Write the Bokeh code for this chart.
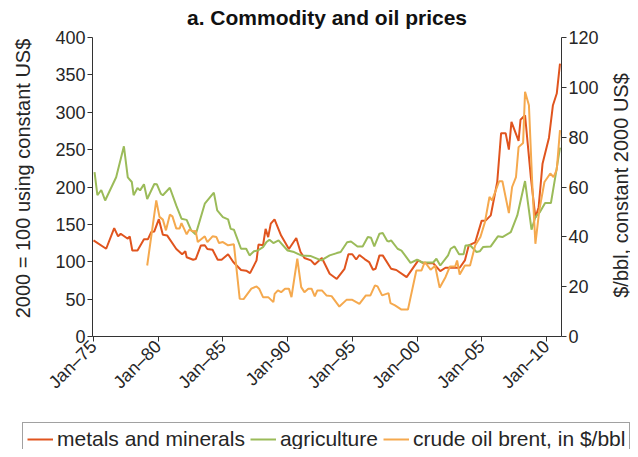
import math
from bokeh.plotting import figure
from bokeh.models import Range1d, LinearAxis, FixedTicker, Legend, LegendItem, Label
from bokeh.embed import file_html
from bokeh.resources import INLINE

FONT = "Liberation Sans"

# ---- data (decimal years; metals & agriculture index 2000=100; oil in $/bbl, constant 2000 US$)
metals_x = [1975.0, 1975.98, 1976.6, 1976.9, 1977.1, 1977.65, 1977.8, 1978.0, 1978.4, 1978.9,
            1979.2, 1979.46, 1979.7, 1980.05, 1980.36, 1980.7, 1981.4, 1981.85, 1982.1, 1982.2,
            1982.7, 1982.9, 1983.3, 1983.6, 1983.8, 1984.2, 1984.6, 1984.9, 1985.4, 1985.8,
            1986.4, 1986.8, 1987.1, 1987.6, 1987.75, 1988.1, 1988.3, 1988.5, 1988.7, 1988.99,
            1989.5, 1990.1, 1990.67, 1991.0, 1991.3, 1991.8, 1992.1, 1992.65, 1993.25, 1993.8,
            1994.4, 1994.7, 1995.0, 1995.3, 1995.55, 1995.95, 1996.3, 1996.6, 1996.8, 1997.1,
            1997.35, 1998.0, 1998.4, 1999.2, 2000.1, 2000.5, 2001.25, 2001.8, 2002.2, 2003.3,
            2003.7, 2004.0, 2004.5, 2005.0, 2005.3, 2005.7, 2006.2, 2006.5, 2006.85, 2007.1,
            2007.3, 2007.85, 2008.0, 2008.35, 2008.8, 2009.15, 2009.4, 2009.7, 2010.2, 2010.5,
            2010.8, 2011.05]
metals_y = [128.6, 117.4, 145, 134, 137.5, 130.8, 134, 115, 115, 130,
            130, 139.7, 140.6, 157, 136, 135, 117, 110, 114, 106,
            102.7, 103.6, 121.9, 122, 117, 116, 102.7, 102.7, 110, 99.6,
            89, 88, 84.8, 101.8, 123, 122, 144, 133, 151, 156.7,
            135, 117, 131.7, 113, 105, 101.8, 96.4, 105, 84, 77,
            90.6, 110, 110, 103, 109, 103.6, 99.6, 89.3, 90.6, 108.5,
            108.5, 90.6, 89, 79.5, 101.8, 98, 98, 87.5, 92, 92,
            101.8, 121.9, 126, 155, 155, 162, 206.7, 272, 272, 250,
            287, 261.6, 290, 296, 213, 159, 173, 231, 266, 309,
            325, 365]

agri_x = [1975.08, 1975.3, 1975.6, 1975.9, 1976.75, 1977.35, 1977.65, 1977.96, 1978.1, 1978.4,
          1978.6, 1978.9, 1979.15, 1979.7, 1979.9, 1980.2, 1980.36, 1980.9, 1981.4, 1981.8,
          1982.2, 1982.55, 1982.9, 1983.6, 1984.3, 1984.56, 1985.0, 1985.4, 1985.6, 1985.85,
          1986.4, 1986.8, 1987.06, 1987.4, 1987.7, 1988.1, 1988.35, 1988.6, 1988.9, 1989.3,
          1990.0, 1990.5, 1991.05, 1991.8, 1992.6, 1993.25, 1993.8, 1994.1, 1994.6, 1994.9,
          1995.4, 1995.8, 1996.2, 1996.45, 1996.7, 1997.1, 1997.35, 1997.7, 1997.85, 1998.0,
          1998.5, 1998.8, 1999.5, 2000.0, 2000.4, 2001.25, 2001.5, 2001.8, 2002.4, 2002.6,
          2002.9, 2003.25, 2003.6, 2003.75, 2004.1, 2004.6, 2004.85, 2005.1, 2005.7, 2006.25,
          2006.6, 2007.25, 2007.75, 2008.35, 2008.85, 2009.15, 2009.5, 2009.9, 2010.35, 2010.75,
          2011.05]
agri_y = [220, 189, 196, 182, 213, 254.5, 213, 206.7, 189, 198.7,
          195.5, 203.6, 184, 204, 203.6, 191, 189, 199, 175, 157.6,
          156, 142, 136.6, 177.7, 192.4, 168.75, 159.8, 156.7, 144, 142.9,
          117.4, 117.4, 108.5, 114, 115, 119.6, 126, 129.5, 125, 128.6,
          115, 113, 108.5, 107.6, 101.8, 108.5, 111.6, 113, 126, 127,
          120.5, 120.5, 133, 132, 120.5, 137.5, 138.4, 127.7, 127.2, 128.6,
          117.4, 115, 98.6, 102.7, 99, 99, 104, 95, 108.5, 117.4,
          120.5, 110, 110, 121.9, 122, 113, 114, 119.6, 120.5, 134,
          133, 139.7, 162, 208, 143, 159.8, 166.5, 178.6, 178.6, 220,
          252.7]

oil_x = [1979.15, 1979.85, 1980.1, 1980.36, 1980.6, 1980.9, 1981.1, 1981.4, 1981.65, 1981.8,
         1982.2, 1982.4, 1982.7, 1982.9, 1983.06, 1983.6, 1983.8, 1984.2, 1984.5, 1984.7,
         1985.0, 1985.4, 1985.85, 1986.3, 1986.6, 1987.2, 1987.6, 1987.8, 1988.1, 1988.5,
         1988.9, 1989.0, 1989.25, 1989.5, 1989.8, 1990.1, 1990.3, 1990.75, 1991.05, 1991.3,
         1991.6, 1991.85, 1992.1, 1992.3, 1992.65, 1993.0, 1993.4, 1994.0, 1994.55, 1995.0,
         1995.55, 1996.05, 1996.4, 1996.75, 1996.95, 1997.3, 1997.8, 1997.95, 1998.3, 1998.8,
         1999.3, 1999.95, 2000.35, 2000.6, 2001.05, 2001.4, 2001.75, 2002.2, 2002.55, 2002.95,
         2003.1, 2003.3, 2003.7, 2004.1, 2004.5, 2004.9, 2005.25, 2005.6, 2005.8, 2006.35,
         2006.6, 2007.1, 2007.35, 2007.65, 2007.85, 2008.2, 2008.35, 2008.65, 2008.9, 2009.15,
         2009.45, 2009.85, 2010.3, 2010.55, 2010.8, 2011.05]
oil_y = [28.5, 54.6, 48, 46.9, 42.6, 48.9, 48.2, 43.3, 43.3, 45.5,
         41, 42.9, 42.2, 42.3, 37.9, 40.2, 37.9, 40.2, 39.9, 37.5,
         37.9, 36.6, 37, 15.1, 15, 19.2, 20.1, 19.2, 15.8, 15.8,
         13.8, 17.1, 18.5, 17.8, 19.2, 19.2, 15.8, 31.2, 19.8, 17.8,
         19.2, 19.2, 16.1, 18.5, 18.5, 16.5, 16.2, 12, 14.7, 14.7,
         13.1, 16.5, 16.5, 20.5, 20.1, 16.5, 17.4, 13.4, 12.5, 10.8,
         10.8, 26.5, 26.5, 29.9, 26.8, 28.4, 19.6, 23.8, 28.1, 28.1,
         30.5, 24.9, 28.5, 28.5, 36.6, 39.9, 45.9, 56, 54.6, 62.3,
         62.3, 49.5, 60, 64, 76, 77.7, 98.2, 92.8, 62, 37.2,
         50.6, 62, 65.4, 64, 67, 82.8]

x_ticks = [1975, 1980, 1985, 1990, 1995, 2000, 2005, 2010]
x_tick_labels = ["Jan\u201375", "Jan\u201380", "Jan\u201385", "Jan-90",
                 "Jan\u201395", "Jan\u201300", "Jan\u201305", "Jan\u201310"]
left_ticks = [0, 50, 100, 150, 200, 250, 300, 350, 400]
right_ticks = [0, 20, 40, 60, 80, 100, 120]

title_text = "a. Commodity and oil prices"
left_label = "2000 = 100 using constant US$"
right_label = "$/bbl, constant 2000 US$"
series_names = ["metals and minerals", "agriculture", "crude oil brent, in $/bbl"]
colors = ["#E0541E", "#9BBB59", "#F5A94E"]

TEXT = "#262626"
AXIS = "#333333"

# ---- layout geometry (pixels): the frame covers the whole canvas; axes sit at fixed locations
W, H = 630, 449
PX_PER_YR = 12.94          # horizontal scale
PX_PER_UNIT = 0.7475       # vertical scale (left axis units)
X_JAN75_PX = 93            # where Jan-75 sits
Y_ZERO_PX = 336            # where 0 sits
AX_LEFT_PX, AX_RIGHT_PX = 92, 561
OIL_FACTOR = 120 / 400     # right axis / left axis

x_lo = 1975 - X_JAN75_PX / PX_PER_YR
x_hi = x_lo + W / PX_PER_YR
y_hi = Y_ZERO_PX / PX_PER_UNIT
y_lo = -(H - Y_ZERO_PX) / PX_PER_UNIT


def dx(px):
    return x_lo + px / PX_PER_YR


def dy(py):
    return (Y_ZERO_PX - py) / PX_PER_UNIT


x_axis_left = dx(AX_LEFT_PX)
x_axis_right = dx(AX_RIGHT_PX)

p = figure(width=W, height=H, output_backend="svg", toolbar_location=None,
           x_range=Range1d(x_lo, x_hi), y_range=Range1d(y_lo, y_hi),
           min_border=0, x_axis_type=None, y_axis_type=None)
p.extra_y_ranges = {"oil": Range1d(y_lo * OIL_FACTOR, y_hi * OIL_FACTOR)}
p.outline_line_color = None
p.background_fill_color = "white"
p.border_fill_color = "white"
p.grid.visible = False


def style_axis(ax):
    ax.minor_tick_line_color = None
    ax.major_tick_in = 0
    ax.major_tick_out = 5
    ax.major_label_standoff = 2
    ax.major_label_text_font = FONT
    ax.major_label_text_font_size = "18px"
    ax.major_label_text_color = TEXT
    ax.axis_line_color = AXIS
    ax.major_tick_line_color = AXIS


xa = LinearAxis(ticker=FixedTicker(ticks=x_ticks), fixed_location=0,
                bounds=(x_axis_left, x_axis_right))
xa.major_label_overrides = {t: l for t, l in zip(x_ticks, x_tick_labels)}
xa.major_label_orientation = math.pi / 4
style_axis(xa)
p.add_layout(xa, "below")

ya = LinearAxis(ticker=FixedTicker(ticks=left_ticks), fixed_location=x_axis_left,
                bounds=(0, 400))
style_axis(ya)
p.add_layout(ya, "left")

ra = LinearAxis(y_range_name="oil", ticker=FixedTicker(ticks=right_ticks),
                fixed_location=x_axis_right, bounds=(0, 120))
style_axis(ra)
p.add_layout(ra, "right")

r_met = p.line(metals_x, metals_y, line_color=colors[0], line_width=2)
r_agr = p.line(agri_x, agri_y, line_color=colors[1], line_width=2)
r_oil = p.line(oil_x, oil_y, line_color=colors[2], line_width=2, y_range_name="oil")

# title and axis titles
p.add_layout(Label(x=dx(326.5), y=dy(17), text=title_text, text_align="center",
                   text_baseline="middle", text_font=FONT, text_font_size="21px",
                   text_font_style="bold", text_color="#111111"))
p.add_layout(Label(x=dx(22), y=dy(178), text=left_label, angle=math.pi / 2,
                   text_align="center", text_baseline="middle", text_font=FONT,
                   text_font_size="20px", text_color=TEXT))
p.add_layout(Label(x=dx(620), y=dy(185), text=right_label, angle=math.pi / 2,
                   text_align="center", text_baseline="middle", text_font=FONT,
                   text_font_size="20px", text_color=TEXT))

legend = Legend(items=[LegendItem(label=series_names[0], renderers=[r_met]),
                       LegendItem(label=series_names[1], renderers=[r_agr]),
                       LegendItem(label=series_names[2], renderers=[r_oil])],
                location=(22, -7), orientation="horizontal")
legend.label_text_font = FONT
legend.label_text_font_size = "21px"
legend.label_text_color = TEXT
legend.glyph_width = 26
legend.glyph_height = 20
legend.label_standoff = 4
legend.spacing = 5
legend.padding = 4
legend.margin = 0
legend.border_line_color = "#444444"
legend.border_line_width = 1
legend.background_fill_color = "white"
legend.background_fill_alpha = 1.0
p.add_layout(legend)

open("out.html", "w").write(file_html(p, INLINE))
